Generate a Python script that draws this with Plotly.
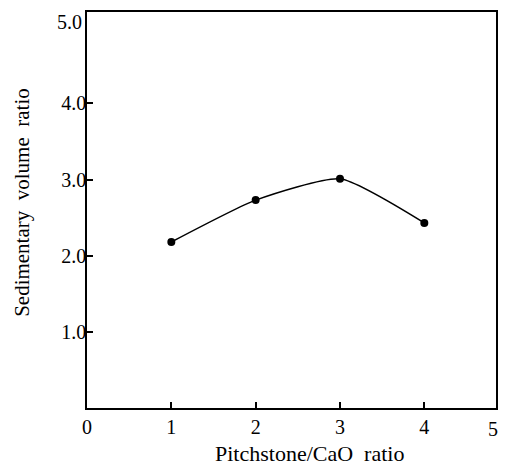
import plotly.graph_objects as go

ratio_x = [1, 2, 3, 4]
sed_volume = [2.18, 2.73, 3.01, 2.43]
x_tick_vals = [0, 1, 2, 3, 4]
x_tick_text = ["0", "1", "2", "3", "4"]
y_tick_vals = [1, 2, 3, 4]
y_tick_text = ["1.0", "2.0", "3.0", "4.0"]
x_title = "Pitchstone/CaO&nbsp;&nbsp;ratio"
y_title = "Sedimentary&nbsp;&nbsp;volume&nbsp;&nbsp;ratio"

FONT = "Liberation Serif"

fig = go.Figure()
fig.add_trace(go.Scatter(
    x=ratio_x, y=sed_volume, mode="lines+markers",
    line=dict(color="black", width=1.5, shape="spline", smoothing=0.55),
    marker=dict(color="black", size=8),
    showlegend=False,
))

# page body has an 8px default margin, so the figure is sized/offset to compensate
fig.update_layout(
    width=492, height=459,
    margin=dict(l=79, r=4, t=2, b=59),
    plot_bgcolor="white", paper_bgcolor="white",
    font=dict(family=FONT, size=20, color="black"),
    xaxis=dict(
        range=[0, 4.85], tickvals=x_tick_vals, ticktext=x_tick_text,
        ticks="inside", ticklen=6, tickwidth=1.5, tickcolor="black",
        showline=True, linecolor="black", linewidth=1.5, mirror=True,
        showgrid=False, zeroline=False, ticklabelstandoff=0,
    ),
    yaxis=dict(
        range=[0, 5.2], tickvals=y_tick_vals, ticktext=y_tick_text,
        ticks="inside", ticklen=6, tickwidth=1.5, tickcolor="black",
        showline=True, linecolor="black", linewidth=1.5, mirror=True,
        showgrid=False, zeroline=False, ticklabelstandoff=-5,
    ),
    annotations=[
        dict(x=0, y=1, xref="paper", yref="paper", text="5.0", showarrow=False,
             xanchor="right", yanchor="top", xshift=-3, yshift=3, font=dict(size=20)),
        dict(x=1, y=0, xref="paper", yref="paper", text="5", showarrow=False,
             xanchor="center", yanchor="top", yshift=-8, xshift=-3, font=dict(size=20)),
        dict(x=0.545, y=0, xref="paper", yref="paper", text=x_title, showarrow=False,
             xanchor="center", yanchor="middle", yshift=-45, font=dict(size=22)),
        dict(x=0, y=0.518, xref="paper", yref="paper", text=y_title, showarrow=False,
             textangle=-90, xanchor="center", yanchor="middle", xshift=-65,
             font=dict(size=21)),
    ],
)

fig.write_html("out.html")
